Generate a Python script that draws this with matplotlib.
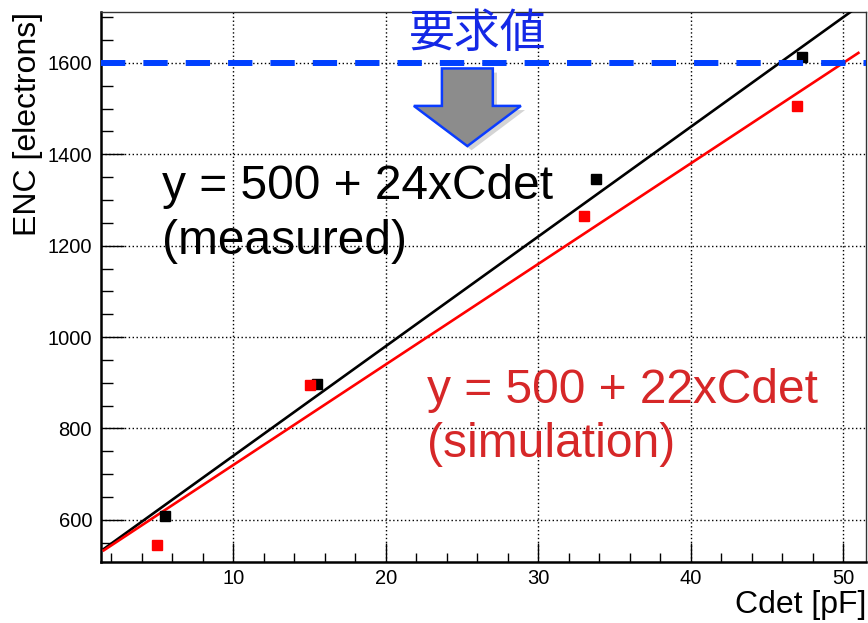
import numpy as np
import matplotlib
import matplotlib.pyplot as plt
from matplotlib.patches import Polygon
from matplotlib.ticker import MultipleLocator
import matplotlib.patheffects as pe

matplotlib.use("Agg")

plt.rcParams["font.family"] = ["Liberation Sans", "DejaVu Sans"]

# ── data ─────────────────────────────────────────────────────────────────────
cdet_measured = [5.5, 15.5, 33.8, 47.3]
enc_measured = [608, 897, 1346, 1613]

cdet_sim = [5.0, 15.0, 33.0, 47.0]
enc_sim = [545, 895, 1265, 1506]

# linear models ENC = a + b * Cdet
fit_intercept = 500
slope_measured = 24
slope_sim = 22
fit_range = (1.5, 51.0)

requirement = 1600

# ── figure ───────────────────────────────────────────────────────────────────
fig = plt.figure(figsize=(8.68, 6.23), dpi=100)
ax = fig.add_axes([0.1164, 0.0979, 0.8813, 0.8828])

ax.set_xlim(1.32, 51.5)
ax.set_ylim(507.5, 1711.5)

# fit lines
xf = np.linspace(*fit_range, 200)
ax.plot(xf, fit_intercept + slope_measured * xf, color="black", lw=1.9, zorder=3)
ax.plot(xf, fit_intercept + slope_sim * xf, color="#ff0000", lw=1.9, zorder=3)

# data points
ax.plot(cdet_measured, enc_measured, ls="none", marker="s", ms=6.7,
        color="black", zorder=4)
ax.plot(cdet_sim, enc_sim, ls="none", marker="s", ms=6.7,
        color="#ff0000", zorder=4)

# requirement line
lw_req = 4.3
ax.axhline(requirement, color="#0040ff", lw=lw_req, zorder=5,
           dashes=(17.5 / lw_req, 13.0 / lw_req), dash_capstyle="butt")
ax.text(26.0, 1663, "要求値", color="#1428e6", fontsize=33,
        family=["Noto Sans CJK JP", "DejaVu Sans"],
        ha="center", va="center", zorder=6)

# downward arrow under the requirement label
arrow_x, half_shaft, half_head = 25.35, 1.67, 3.51
shaft_top, shoulder, tip = 1588, 1506, 1418
arrow = Polygon(
    [(arrow_x - half_shaft, shaft_top), (arrow_x + half_shaft, shaft_top),
     (arrow_x + half_shaft, shoulder), (arrow_x + half_head, shoulder),
     (arrow_x, tip), (arrow_x - half_head, shoulder),
     (arrow_x - half_shaft, shoulder)],
    closed=True, facecolor="#8c8c8c", edgecolor="#0a3cff", lw=1.8, zorder=6,
)
arrow.set_path_effects([pe.SimplePatchShadow(offset=(3, -3), alpha=0.2),
                        pe.Normal()])
ax.add_patch(arrow)

# fit annotations
ax.text(5.3, 1302, "y = 500 + 24xCdet", color="black", fontsize=34.5,
        va="baseline", zorder=6)
ax.text(5.3, 1182, "(measured)", color="black", fontsize=34.5,
        va="baseline", zorder=6)
ax.text(22.7, 856, "y = 500 + 22xCdet", color="#d62728", fontsize=34.5,
        va="baseline", zorder=6)
ax.text(22.7, 738, "(simulation)", color="#d62728", fontsize=34.5,
        va="baseline", zorder=6)

# ── axes styling ─────────────────────────────────────────────────────────────
ax.xaxis.set_major_locator(MultipleLocator(10))
ax.xaxis.set_minor_locator(MultipleLocator(2))
ax.yaxis.set_major_locator(MultipleLocator(200))
ax.yaxis.set_minor_locator(MultipleLocator(50))

ax.tick_params(axis="both", which="both", direction="in", top=False,
               right=False, width=1.0, labelsize=14.5)
ax.tick_params(axis="x", which="major", length=13.7, pad=5)
ax.tick_params(axis="x", which="minor", length=6.5)
ax.tick_params(axis="y", which="major", length=16.6, pad=6.5)
ax.tick_params(axis="y", which="minor", length=8.4)

ax.grid(True, which="major", color="black", lw=1.0, ls=(0, (1, 1.8)), zorder=1)

for side in ("left", "bottom"):
    ax.spines[side].set_linewidth(1.8)
for side in ("top", "right"):
    ax.spines[side].set_linewidth(1.0)
    ax.spines[side].set_color("#333333")

ax.set_xlabel("Cdet [pF]", fontsize=23, loc="right")
ax.xaxis.set_label_coords(1.0, -0.05)
ax.xaxis.label.set_va("top")
ax.set_ylabel("ENC [electrons]", fontsize=23, loc="top")
ax.yaxis.set_label_coords(-0.076, 1.0)

fig.savefig("out.png", dpi=100)
